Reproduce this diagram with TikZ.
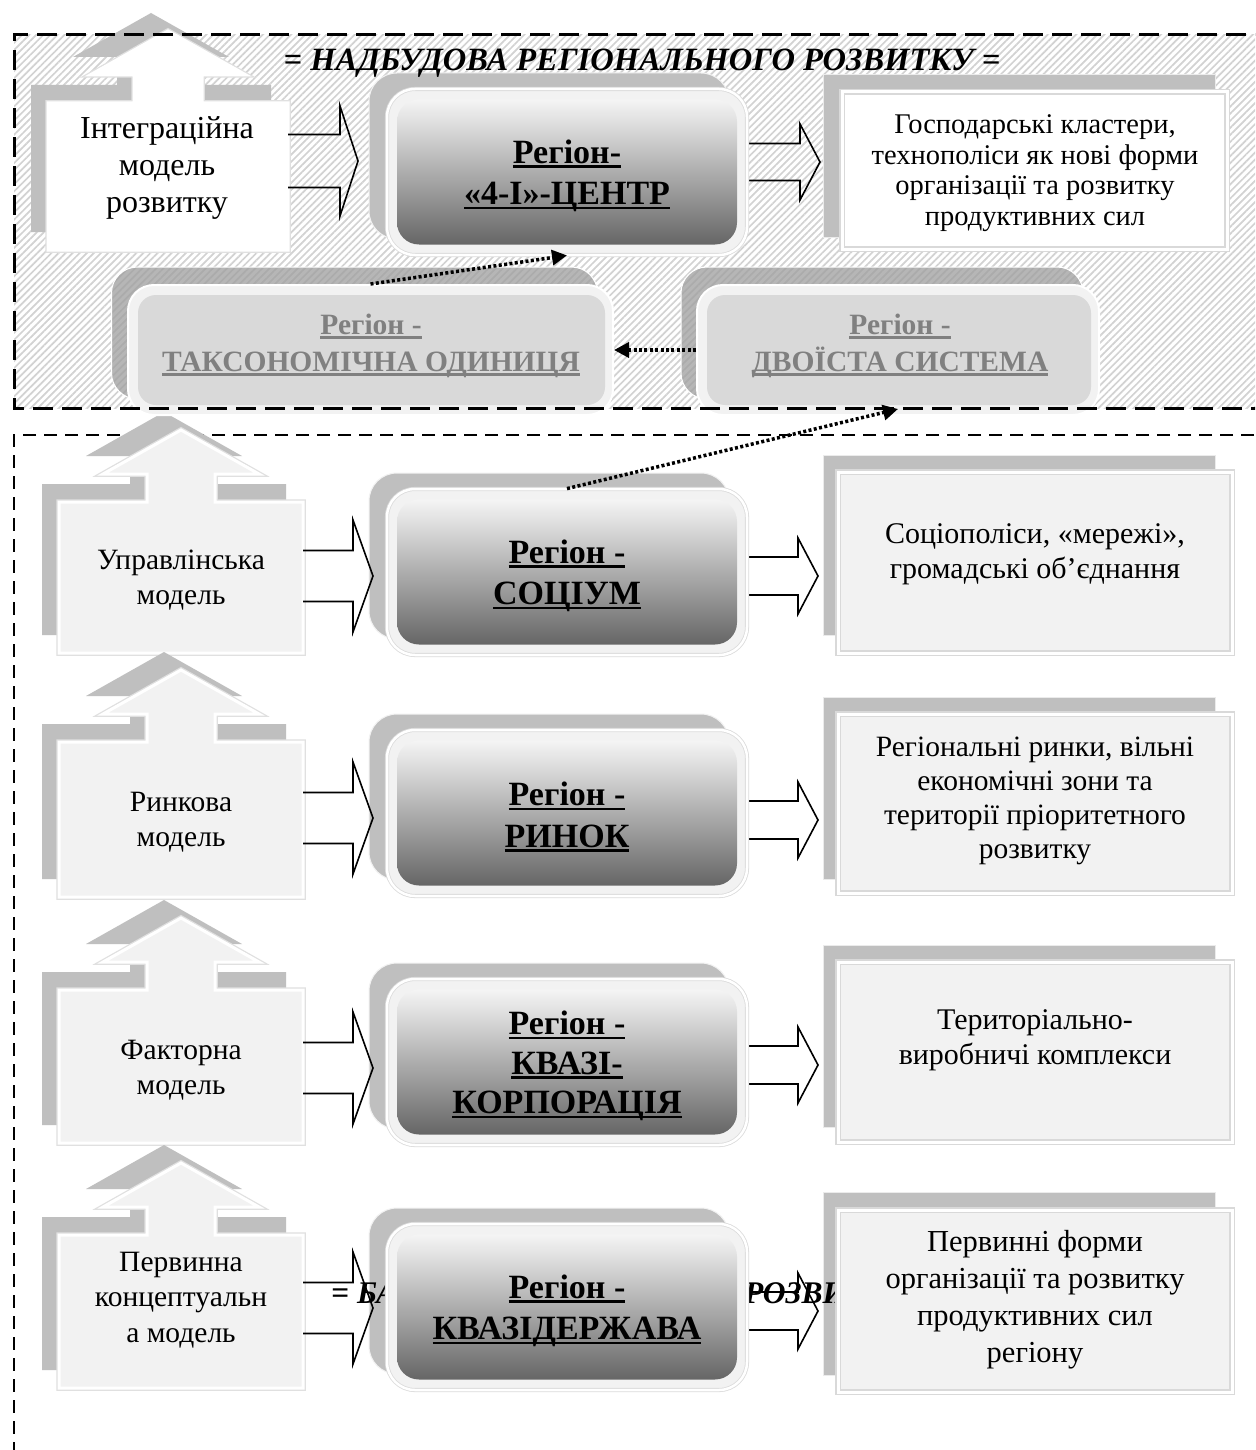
\documentclass[tikz,border=0pt]{standalone}
\usepackage{fontspec}
\setmainfont{Liberation Serif}
\usetikzlibrary{arrows.meta,patterns.meta,calc}
\definecolor{lg}{HTML}{F2F2F2}
\definecolor{sg}{HTML}{BFBFBF}
\definecolor{hg}{HTML}{D2D2D2}
\definecolor{tg}{HTML}{808080}
\newsavebox\ulbox
\newcommand\myul[1]{\leavevmode\sbox\ulbox{#1}\rlap{\rule[-4.5pt]{\wd\ulbox}{2.6pt}}\usebox\ulbox}
% up-arrow callout: left, right, top, bottom, fill
\newcommand\callout[5]{%
 \pgfmathsetmacro\cx{(#1+#2)/2}%
 \fill[sg,shift={(-17,-18)}] (#1,#3) -- (\cx-34,#3) -- (\cx-34,#3-28) -- (\cx-78,#3-28) -- (\cx,#3-72) -- (\cx+78,#3-28) -- (\cx+34,#3-28) -- (\cx+34,#3) -- (#2,#3) -- (#2,#4) -- (#1,#4) -- cycle;
 \draw[black!12,line width=5.5pt] (#1,#3) -- (\cx-34,#3) -- (\cx-34,#3-28) -- (\cx-78,#3-28) -- (\cx,#3-72) -- (\cx+78,#3-28) -- (\cx+34,#3-28) -- (\cx+34,#3) -- (#2,#3) -- (#2,#4) -- (#1,#4) -- cycle;
 \draw[fill=#5,draw=white,line width=3pt] (#1,#3) -- (\cx-34,#3) -- (\cx-34,#3-28) -- (\cx-78,#3-28) -- (\cx,#3-72) -- (\cx+78,#3-28) -- (\cx+34,#3-28) -- (\cx+34,#3) -- (#2,#3) -- (#2,#4) -- (#1,#4) -- cycle;
}
% block arrow: start coord, end coord (tip), head length, shaft half, head half
\newcommand\blockarr[5]{%
 \draw[barrow] let \p1=(#1), \p2=(#2) in
  (\x1,{\y1+#4pt}) -- ({\x2-#3pt},{\y1+#4pt}) -- ({\x2-#3pt},{\y1+#5pt}) -- (\x2,\y1)
  -- ({\x2-#3pt},{\y1-#5pt}) -- ({\x2-#3pt},{\y1-#4pt}) -- (\x1,{\y1-#4pt});
}
\tikzset{
 barrow/.style={draw=black, line width=1.6pt, line join=miter},
 dotarr/.style={line width=3.5pt, dash pattern=on 3pt off 2.4pt, -{Triangle[length=15pt,width=15pt]}},
 topframe/.style={line width=3pt, dash pattern=on 20pt off 9pt},
 lowframe/.style={line width=2.6pt, dash pattern=on 13pt off 8pt},
 cback/.style={minimum width=360pt, minimum height=166pt, rounded corners=28pt, fill=sg, draw=black!5, line width=1pt, inner sep=0pt},
 cframe/.style={minimum width=360pt, minimum height=166pt, rounded corners=28pt, fill=lg, draw=black!14, double=white, double distance=2.5pt, line width=0.8pt, inner sep=0pt},
 cinner/.style={minimum width=340pt, minimum height=145pt, rounded corners=22pt, top color=white!96!black, bottom color=black!60, draw=none, inner sep=0pt},
 ctext/.style={align=center, inner sep=0pt, font=\fontsize{34}{41.5}\selectfont\bfseries},
 gback/.style={rounded corners=26pt, fill=black!38, fill opacity=0.75, draw=white, line width=1pt, inner sep=0pt},
 gframe/.style={minimum height=130pt, rounded corners=26pt, fill=lg, draw=white, line width=2pt, inner sep=0pt},
 ginner/.style={minimum height=110pt, rounded corners=18pt, fill=black!15, draw=none, inner sep=0pt},
 gtext/.style={align=center, inner sep=0pt, text=tg, font=\fontsize{29.5}{37}\selectfont\bfseries},
 rback/.style={minimum width=392pt, fill=sg, draw=white!92!black, line width=1pt, inner sep=0pt},
 rfront/.style={minimum width=394pt, fill=lg, draw=black!15, double=white, double distance=3pt, line width=1.2pt, inner sep=0pt},
 ltop/.style={align=center, inner sep=0pt, font=\fontsize{32}{37}\selectfont},
 llow/.style={align=center, inner sep=0pt, font=\fontsize{29.5}{35.5}\selectfont},
 rtext/.style={align=center, inner sep=0pt, font=\fontsize{30}{35}\selectfont},
 titletext/.style={inner sep=0pt, font=\fontsize{32.5}{36}\selectfont\bfseries\itshape},
}
\begin{document}
\begin{tikzpicture}[x=1pt,y=-1pt]
\useasboundingbox (0,0) rectangle (1255,1450);
\clip (0,0) rectangle (1255,1450);
\fill[white] (0,0) rectangle (1255,1450);
% hatched upper zone
\fill[pattern={Lines[angle=45,distance=5pt,line width=1.7pt]}, pattern color=hg] (14,35) rectangle (1275,408);
% lower zone frame
\draw[lowframe] (1275,435) -- (14,435) -- (14,1475);

% left callouts
\callout{48}{288}{103}{250}{white}
\callout{59}{303}{502}{653}{lg}
\callout{59}{303}{742}{897}{lg}
\callout{59}{303}{990}{1143}{lg}
\callout{59}{303}{1235}{1388}{lg}
\node[ltop] (L1) at (167,168) {Інтеграційна\\модель\\розвитку};
\node[llow] (L2) at (181,580) {Управлінська\\модель};
\node[llow] (L3) at (181,822) {Ринкова\\модель};
\node[llow] (L4) at (181,1070) {Факторна\\модель};
\node[llow] (L5) at (181,1300) {Первинна\\концептуальн\\а модель};

% central back boxes
\foreach \yy in {172,572,813,1062,1307} \node[cback] at (549,\yy-16) {};
% right back boxes
\node[rback, minimum height=162pt] at (1019,156) {};
\node[rback, minimum height=180pt] at (1019.5,545) {};
\node[rback, minimum height=182pt] at (1019.5,788) {};
\node[rback, minimum height=182pt] at (1019.5,1036) {};
\node[rback, minimum height=183pt] at (1019.5,1283.5) {};

% connector end points
\coordinate (a1s) at (288,161); \coordinate (a1e) at (358,161);
\coordinate (b1s) at (747,162); \coordinate (b1e) at (820,162);
\coordinate (a2s) at (303,576); \coordinate (a2e) at (373,576);
\coordinate (b2s) at (747,576); \coordinate (b2e) at (818,576);
\coordinate (a3s) at (303,818); \coordinate (a3e) at (373,818);
\coordinate (b3s) at (747,820); \coordinate (b3e) at (818,820);
\coordinate (a4s) at (303,1068); \coordinate (a4e) at (373,1068);
\coordinate (b4s) at (747,1065); \coordinate (b4e) at (818,1065);
\coordinate (a5s) at (303,1308); \coordinate (a5e) at (373,1308);
\coordinate (b5s) at (747,1311); \coordinate (b5e) at (818,1311);
\blockarr{a1s}{a1e}{18}{26.5}{55}
\blockarr{b1s}{b1e}{20}{18.5}{38}
\blockarr{a2s}{a2e}{20}{25.5}{56}
\blockarr{b2s}{b2e}{20}{19}{38}
\blockarr{a3s}{a3e}{20}{25.5}{56}
\blockarr{b3s}{b3e}{20}{19}{38}
\blockarr{a4s}{a4e}{20}{25.5}{56}
\blockarr{b4s}{b4e}{20}{19}{38}
\blockarr{a5s}{a5e}{20}{25.5}{56}
\blockarr{b5s}{b5e}{20}{19}{38}

% partly hidden base title
\node[titletext, font=\fontsize{31.5}{35}\selectfont\bfseries\itshape, anchor=west] (H2) at (331,1293) {= БАЗИС РЕГІОНАЛЬНОГО РОЗВИТКУ =};

% central front boxes
\node[cframe] (C1) at (567,172) {};
\node[cframe] (C2) at (567,572) {};
\node[cframe] (C3) at (567,813) {};
\node[cframe] (C4) at (567,1062) {};
\node[cframe] (C5) at (567,1307) {};
\foreach \yy in {172,572,813,1062,1307} \node[cinner] at (567,\yy) {};
\node[ctext] (C1t) at (567,176) {\myul{Регіон-}\\\myul{«4-І»-ЦЕНТР}};
\node[ctext] (C2t) at (567,576) {\myul{Регіон -}\\\myul{СОЦІУМ}};
\node[ctext] (C3t) at (567,817) {\myul{Регіон -}\\\myul{РИНОК}};
\node[ctext,font=\fontsize{34}{39.5}\selectfont\bfseries] (C4t) at (567,1066) {\myul{Регіон -}\\\myul{КВАЗІ-}\\\myul{КОРПОРАЦІЯ}};
\node[ctext] (C5t) at (567,1311) {\myul{Регіон -}\\\myul{КВАЗІДЕРЖАВА}};

% right front boxes
\node[rfront, fill=white, minimum width=385pt, minimum height=157pt] (R1) at (1034.5,170.5) {};
\node[rfront, minimum height=181pt] (R2) at (1035,562.5) {};
\node[rfront, minimum height=179pt] (R3) at (1035,803.5) {};
\node[rfront, minimum height=180pt] (R4) at (1035,1052) {};
\node[rfront, minimum height=182pt] (R5) at (1035,1301) {};
\node[rtext, font=\fontsize{28.5}{30.5}\selectfont] (R1t) at (1035,173) {Господарські кластери,\\технополіси як нові форми\\організації та розвитку\\продуктивних сил};
\node[rtext] (R2t) at (1035,554) {Соціополіси, «мережі»,\\громадські об’єднання};
\node[rtext, font=\fontsize{29.5}{33.8}\selectfont] (R3t) at (1035,801) {Регіональні ринки, вільні\\економічні зони та\\території пріоритетного\\розвитку};
\node[rtext] (R4t) at (1035,1040) {Територіально-\\виробничі комплекси};
\node[rtext, font=\fontsize{30.5}{37}\selectfont] (R5t) at (1035,1300) {Первинні форми\\організації та розвитку\\продуктивних сил\\регіону};

% grey boxes in the upper zone
\node[gback, minimum width=486pt, minimum height=132pt] at (354.5,333) {};
\node[gback, minimum width=402pt, minimum height=132pt] at (882,333) {};
\node[gframe, minimum width=485pt] (T1) at (370.5,350) {};
\node[gframe, minimum width=402pt] (T2) at (898,350) {};
\node[ginner, minimum width=467pt] at (371.5,350) {};
\node[ginner, minimum width=384pt] at (899,350) {};
\node[gtext] (T1t) at (371,346) {\myul{Регіон -}\\\myul{ТАКСОНОМІЧНА ОДИНИЦЯ}};
\node[gtext] (T2t) at (900,346) {\myul{Регіон -}\\\myul{ДВОЇСТА СИСТЕМА}};

% upper zone frame
\draw[topframe] (1275,35) -- (14,35) -- (14,408) -- (1275,408);
% superstructure title
\node[titletext] (H1) at (642,63) {= НАДБУДОВА РЕГІОНАЛЬНОГО РОЗВИТКУ =};

% dotted links
\draw[dotarr] (T1.north) -- (C1.south);
\draw[dotarr] (T2.west) -- (T1.east);
\draw[dotarr] (C2.north) -- ([yshift=7pt]T2.south);
\end{tikzpicture}
\end{document}
